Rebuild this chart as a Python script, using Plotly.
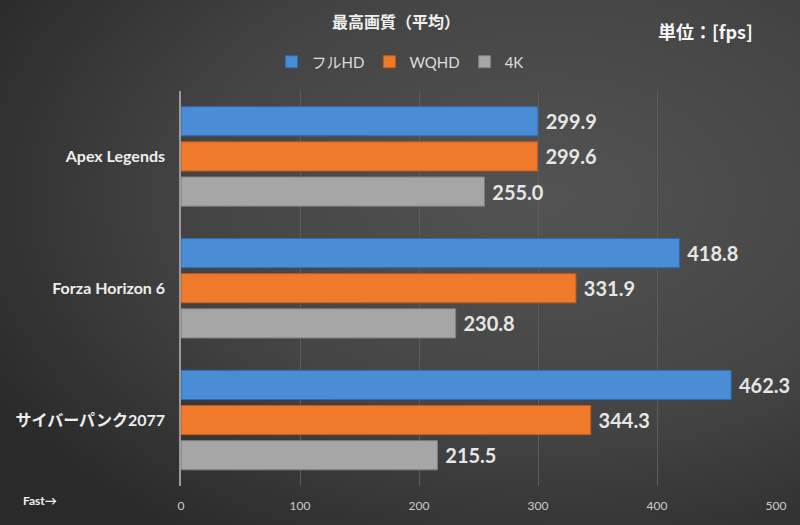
import base64
import plotly.graph_objects as go

categories = ["Apex Legends", "Forza Horizon 6", "サイバーパンク2077"]
series_names = ["フルHD", "WQHD", "4K"]
fullhd = [299.9, 418.8, 462.3]
wqhd = [299.6, 331.9, 344.3]
k4 = [255.0, 230.8, 215.5]
colors = ["#4a8cd6", "#ef7a2c", "#a6a6a6"]
line_colors = ["#2e6bb0", "#c45a16", "#7f7f7f"]
x_ticks = [0, 100, 200, 300, 400, 500]

FONT = "Lato, 'Noto Sans CJK JP', sans-serif"

fig = go.Figure()
for name, vals, c, lc in zip(series_names, [fullhd, wqhd, k4], colors, line_colors):
    fig.add_trace(go.Bar(
        y=categories, x=vals, name=name, orientation="h",
        marker=dict(color=c, line=dict(color=lc, width=1)),
        text=[f"\u00a0{v:.1f}" for v in vals], textposition="outside",
        constraintext="none", cliponaxis=False,
        textfont=dict(family=FONT, size=20, color="#e6e6e6", weight="bold"),
    ))

svg = """<svg xmlns='http://www.w3.org/2000/svg' width='800' height='525' viewBox='0 0 800 525' preserveAspectRatio='none'>
<defs><radialGradient id='g' cx='0.68' cy='0.38' r='0.78' gradientUnits='objectBoundingBox'>
<stop offset='0' stop-color='#535353'/><stop offset='0.55' stop-color='#444444'/><stop offset='1' stop-color='#2a2a2a'/>
</radialGradient></defs><rect width='800' height='525' fill='url(#g)'/></svg>"""
src = "data:image/svg+xml;base64," + base64.b64encode(svg.encode()).decode()

L, R, T, B = 181, 24, 88, 32
pw, ph = 800 - L - R, 525 - T - B

fig.update_layout(
    width=800, height=525,
    margin=dict(l=L, r=R, t=T, b=B),
    paper_bgcolor="#2e2e2e", plot_bgcolor="rgba(0,0,0,0)",
    barmode="group", bargap=0.2, bargroupgap=0.17,
    font=dict(family=FONT, color="#e0e0e0"),
    title=dict(text="最高画質（平均）", x=0.495, xanchor="center", y=1 - 22 / 525, yanchor="middle",
               font=dict(family="'Noto Sans CJK JP'", size=16, color="#f0f0f0", weight="bold")),
    legend=dict(orientation="h", x=0.5, xref="container", xanchor="center",
                y=1 - 62 / 525, yref="container", yanchor="middle",
                font=dict(family=FONT, size=15, color="#dddddd"), itemwidth=30,
                traceorder="normal", bgcolor="rgba(0,0,0,0)"),
    xaxis=dict(range=[0, 500], tickvals=x_ticks, showgrid=True, gridcolor="#5c5c5c", gridwidth=1,
               zeroline=False, showline=False, ticks="", ticklabelstandoff=11,
               tickfont=dict(family=FONT, size=12, color="#cccccc")),
    yaxis=dict(autorange="reversed", showgrid=False, showline=True, linecolor="#9a9a9a", linewidth=1.5,
               ticks="", ticklabelstandoff=11,
               tickfont=dict(family=FONT, size=16, color="#eeeeee", weight="bold")),
    images=[dict(source=src, xref="paper", yref="paper", x=-(L + 10) / pw, y=1 + (T + 10) / ph,
                 sizex=820 / pw, sizey=545 / ph, sizing="stretch", xanchor="left", yanchor="top",
                 layer="below")],
    annotations=[
        dict(text="単位：[fps]", xref="paper", yref="paper", x=(705 - L) / pw, y=(525 - B - 27) / ph,
             showarrow=False, xanchor="center", yanchor="middle",
             font=dict(family="'Noto Sans CJK JP'", size=18, color="#f5f5f5", weight="bold")),
        dict(text="Fast→", xref="paper", yref="paper", x=(40 - L) / pw, y=(525 - B - 508) / ph,
             showarrow=False, xanchor="center", yanchor="middle",
             font=dict(family=FONT, size=12, color="#f0f0f0", weight="bold")),
    ],
)
fig.write_html("out.html")
